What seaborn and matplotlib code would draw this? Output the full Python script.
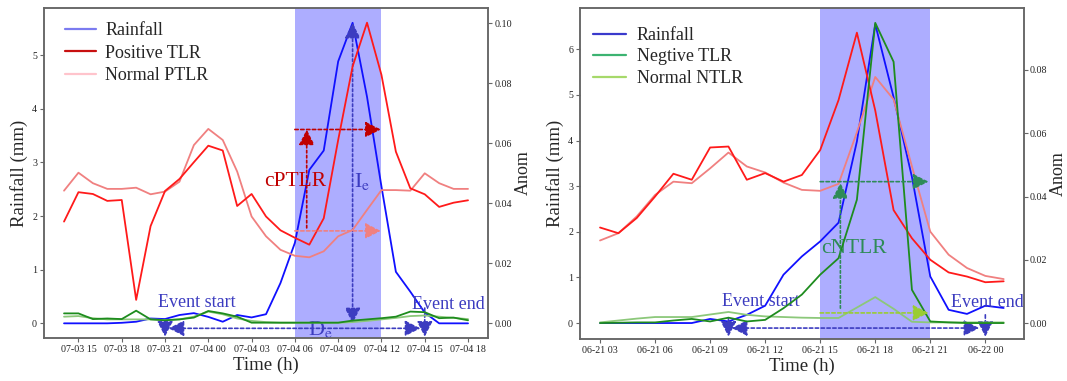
import numpy as np
import pandas as pd
import matplotlib
matplotlib.use("Agg")
import matplotlib.pyplot as plt
import seaborn as sns
from matplotlib.lines import Line2D

# ---------------- data: left event (07-03 14:00 -> 07-04 18:00, hourly) ----------------
hours_L = list(range(29))
rain_L = [0, 0, 0, 0, 0.01, 0.03, 0.09, 0.08, 0.155, 0.19, 0.12, 0.03, 0.155, 0.11, 0.17,
          0.75, 1.5, 2.86, 3.22, 4.88, 5.6, 4.22, 2.55, 0.96, 0.59, 0.2, 0.0, 0.0, 0.0]
pos_tlr_L = [0.0339, 0.0437, 0.0431, 0.0408, 0.0411, 0.0078, 0.0324, 0.0441, 0.0481, 0.0537,
             0.0592, 0.0576, 0.0391, 0.0431, 0.0356, 0.031, 0.0285, 0.0262, 0.035, 0.0611,
             0.0856, 0.1002, 0.0828, 0.0572, 0.045, 0.043, 0.0388, 0.0402, 0.041]
norm_ptlr_L = [0.0442, 0.0502, 0.0467, 0.0448, 0.0448, 0.0452, 0.043, 0.0439, 0.0472, 0.0594,
               0.0648, 0.0611, 0.0506, 0.0356, 0.029, 0.0245, 0.0225, 0.022, 0.024, 0.029,
               0.0311, 0.0378, 0.0444, 0.0444, 0.0442, 0.05, 0.0467, 0.0448, 0.0448]
neg_tlr_L = [0.0033, 0.0033, 0.0014, 0.0016, 0.0014, 0.0042, 0.0013, 0.001, 0.0013, 0.0019,
             0.0041, 0.0033, 0.0022, 0.0002, 0.0002, 0.0002, 0.0002, 0.0002, 0.0002, 0.0002,
             0.0009, 0.0013, 0.0017, 0.0022, 0.0039, 0.0037, 0.0017, 0.0019, 0.001]
norm_ntlr_L = [0.0022, 0.0024, 0.0017, 0.0013, 0.0013, 0.0013, 0.0013, 0.0011, 0.0013, 0.0022,
               0.0039, 0.003, 0.0016, 0.0008, 0.0004, 0.0002, 0.0002, 0.0002, 0.0002, 0.0002,
               0.0004, 0.0008, 0.0013, 0.0018, 0.0024, 0.0026, 0.0022, 0.0018, 0.0014]
ticks_L = [1, 4, 7, 10, 13, 16, 19, 22, 25, 28]
ticklabels_L = ["07-03 15", "07-03 18", "07-03 21", "07-04 00", "07-04 03",
                "07-04 06", "07-04 09", "07-04 12", "07-04 15", "07-04 18"]
shade_L = (16, 22)
event_L = (7, 25)
peak_L = 20

# ---------------- data: right event (06-21 03:00 -> 06-22 01:00, hourly) ----------------
hours_R = list(range(23))
rain_R = [0, 0, 0, 0, 0, 0, 0.09, 0.035, 0.18, 0.38, 1.06, 1.46, 1.79, 2.2, 3.98, 6.55,
          4.95, 3.2, 1.02, 0.29, 0.2, 0.38, 0.33]
pos_tlr_R = [0.0302, 0.0284, 0.0332, 0.04, 0.0472, 0.0453, 0.0555, 0.0558, 0.0453, 0.0474,
             0.0447, 0.0468, 0.0547, 0.0705, 0.0918, 0.0672, 0.0357, 0.0268, 0.02, 0.016,
             0.0147, 0.0129, 0.0132]
norm_ptlr_R = [0.0261, 0.0284, 0.0337, 0.0405, 0.0447, 0.0442, 0.0489, 0.0539, 0.0495, 0.0476,
               0.0444, 0.0421, 0.0418, 0.044, 0.0603, 0.0778, 0.0707, 0.0495, 0.0289, 0.0216,
               0.0174, 0.0149, 0.0139]
neg_tlr_R = [0.0, 0.0001, 0.0002, 0.0002, 0.0008, 0.0013, 0.0005, 0.0017, 0.0005, 0.001,
             0.0047, 0.009, 0.0153, 0.0205, 0.039, 0.0949, 0.0826, 0.0105, 0.0005, 0.0002,
             0.0, 0.0, 0.0]
norm_ntlr_R = [0.0002, 0.0008, 0.0014, 0.0019, 0.0019, 0.0019, 0.0027, 0.0035, 0.0026, 0.0021,
               0.0019, 0.0017, 0.0016, 0.0016, 0.0049, 0.0082, 0.0045, 0.0004, 0.0002, 0.0002,
               0.0002, 0.0002, 0.0002]
ticks_R = [0, 3, 6, 9, 12, 15, 18, 21]
ticklabels_R = ["06-21 03", "06-21 06", "06-21 09", "06-21 12",
                "06-21 15", "06-21 18", "06-21 21", "06-22 00"]
shade_R = (12, 18)
event_R = (7, 21)

# ---------------- style ----------------
sns.set_theme(style="white")
plt.rcParams["font.family"] = ["Liberation Serif", "DejaVu Serif"]
plt.rcParams["mathtext.fontset"] = "stix"

C_RAIN = "#1010ff"
C_POS = "#ff1a1a"
C_NPOS = "#f08080"
C_NEG = "#1e8c1e"
C_NNEG = "#8cc87a"
C_EVT = "#3c3cc0"
C_CP = "#c00000"
C_CN = "#2e8b57"
C_YG = "#9acd32"
SPINE = "#666666"

fig = plt.figure(figsize=(10.67, 3.81), dpi=100)
axL = fig.add_axes([0.0412, 0.1129, 0.4161, 0.8661])
axR = fig.add_axes([0.5436, 0.1102, 0.4158, 0.8688])


def arrow(ax, x0, y0, x1, y1, color, ls=(0, (2, 1.5)), style="-|>", lw=1.2):
    ax.annotate("", xy=(x1, y1), xytext=(x0, y0),
                arrowprops=dict(arrowstyle=style + ",head_length=0.75,head_width=0.38",
                                color=color, lw=lw, linestyle=ls,
                                shrinkA=0, shrinkB=0, mutation_scale=12.5))


def setup(ax, ax2, ticks, ticklabels, ylim, ylim2, yticks, yticks2, xlim):
    ax.set_xlim(*xlim)
    ax.set_ylim(*ylim)
    ax2.set_ylim(*ylim2)
    ax.set_xticks(ticks)
    ax.set_xticklabels(ticklabels)
    ax.set_yticks(yticks)
    ax.set_yticklabels([str(v) for v in yticks])
    ax2.set_yticks(yticks2)
    ax2.set_yticklabels(["%.2f" % v for v in yticks2])
    for a in (ax, ax2):
        for s in a.spines.values():
            s.set_color(SPINE)
            s.set_linewidth(1.1)
        a.tick_params(axis="both", labelsize=7.2, length=3, width=0.8, color=SPINE,
                      direction="out", pad=2, labelcolor="#222222")
    ax.tick_params(bottom=True, left=True)
    ax2.tick_params(right=True, pad=1.5)
    ax.set_xlabel("Time (h)", fontsize=13.5, labelpad=2)
    ax.set_ylabel("Rainfall (mm)", fontsize=13.5, labelpad=3)
    ax2.set_ylabel("Anom", fontsize=13, labelpad=2)


# ======================= LEFT PANEL =======================
axL2 = axL.twinx()
axL.axvspan(*shade_L, color="#0000ff", alpha=0.32, lw=0, zorder=0)
sns.lineplot(x=hours_L, y=norm_ptlr_L, ax=axL2, color=C_NPOS, lw=1.3, legend=False)
sns.lineplot(x=hours_L, y=norm_ntlr_L, ax=axL2, color=C_NNEG, lw=1.3, legend=False)
sns.lineplot(x=hours_L, y=neg_tlr_L, ax=axL2, color=C_NEG, lw=1.3, legend=False)
sns.lineplot(x=hours_L, y=pos_tlr_L, ax=axL2, color=C_POS, lw=1.3, legend=False)
sns.lineplot(x=hours_L, y=rain_L, ax=axL, color=C_RAIN, lw=1.3, legend=False)
setup(axL, axL2, ticks_L, ticklabels_L, (-0.273, 5.876), (-0.0049, 0.1051),
      [0, 1, 2, 3, 4, 5], [0.0, 0.02, 0.04, 0.06, 0.08, 0.10], (-1.39, 29.38))

s, e = event_L
arrow(axL, s, 0.075, s, -0.25, C_EVT)
arrow(axL, e, 0.285, e, -0.25, C_EVT)
arrow(axL, s + 0.25, -0.093, e - 0.3, -0.093, C_EVT, style="<|-|>")
axL.text(s - 0.5, 0.31, "Event start", color=C_EVT, fontsize=13, va="baseline")
axL.text(e - 0.85, 0.27, "Event end", color=C_EVT, fontsize=13, va="baseline")
axL.text(16.9, -0.215, r"D$_\mathrm{e}$", color=C_EVT, fontsize=16, va="baseline")
arrow(axL, peak_L, 0.0, peak_L, rain_L[peak_L], C_EVT, ls=(0, (1.5, 1.5)), style="<|-|>")
axL.text(peak_L + 0.1, 2.54, r"I$_\mathrm{e}$", color=C_EVT, fontsize=16, va="baseline")
a0, a1 = shade_L
arrow(axL2, 16.82, 0.0318, 16.82, 0.0646, C_CP, ls=(0, (1.5, 1.5)))
arrow(axL2, a0, 0.0646, a1 - 0.05, 0.0646, C_CP)
arrow(axL2, a0, 0.0308, a1 - 0.05, 0.0308, C_NPOS)
axL.text(13.86, 2.56, "cPTLR", color=C_CP, fontsize=15.5, va="baseline")

axL2.legend(handles=[Line2D([], [], color="#7b7bf0", lw=1.6),
                     Line2D([], [], color="#c81010", lw=1.6),
                     Line2D([], [], color="#ffc4cc", lw=1.6)],
            labels=["Rainfall", "Positive TLR", "Normal PTLR"],
            loc="upper left", bbox_to_anchor=(0.047, 0.957), frameon=False,
            fontsize=13, borderpad=0, handlelength=1.7, handletextpad=0.55,
            labelspacing=0.3, borderaxespad=0)

# ======================= RIGHT PANEL =======================
axR2 = axR.twinx()
axR.axvspan(*shade_R, color="#0000ff", alpha=0.32, lw=0, zorder=0)
sns.lineplot(x=hours_R, y=norm_ptlr_R, ax=axR2, color=C_NPOS, lw=1.3, legend=False)
sns.lineplot(x=hours_R, y=norm_ntlr_R, ax=axR2, color=C_NNEG, lw=1.3, legend=False)
sns.lineplot(x=hours_R, y=pos_tlr_R, ax=axR2, color=C_POS, lw=1.3, legend=False)
sns.lineplot(x=hours_R, y=neg_tlr_R, ax=axR2, color=C_NEG, lw=1.3, legend=False)
sns.lineplot(x=hours_R, y=rain_R, ax=axR, color=C_RAIN, lw=1.3, legend=False)
setup(axR, axR2, ticks_R, ticklabels_R, (-0.350, 6.905), (-0.00505, 0.0996),
      [0, 1, 2, 3, 4, 5, 6], [0.0, 0.02, 0.04, 0.06, 0.08], (-1.09, 23.09))

s, e = event_R
arrow(axR, s, 0.116, s, -0.30, C_EVT)
arrow(axR, e, 0.18, e, -0.30, C_EVT)
arrow(axR, s + 0.18, -0.11, e - 0.33, -0.11, C_EVT, style="<|-|>")
axR.text(s - 0.37, 0.38, "Event start", color=C_EVT, fontsize=13, va="baseline")
axR.text(e - 1.89, 0.36, "Event end", color=C_EVT, fontsize=13, va="baseline")
b0, b1 = shade_R
arrow(axR2, 13.1, 0.0047, 13.1, 0.0443, C_CN, ls=(0, (1.5, 1.5)))
arrow(axR2, b0, 0.0447, b1 - 0.1, 0.0447, C_CN)
arrow(axR2, b0, 0.0032, b1 - 0.1, 0.0032, C_YG)
axR.text(12.04, 1.54, "cNTLR", color=C_CN, fontsize=15.5, va="baseline")

axR2.legend(handles=[Line2D([], [], color="#3a3acc", lw=1.6),
                     Line2D([], [], color="#3cb371", lw=1.6),
                     Line2D([], [], color="#a6d96a", lw=1.6)],
            labels=["Rainfall", "Negtive TLR", "Normal NTLR"],
            loc="upper left", bbox_to_anchor=(0.03, 0.943), frameon=False,
            fontsize=13, borderpad=0, handlelength=1.8, handletextpad=0.6,
            labelspacing=0.25, borderaxespad=0)

fig.savefig("out.png", dpi=100)
